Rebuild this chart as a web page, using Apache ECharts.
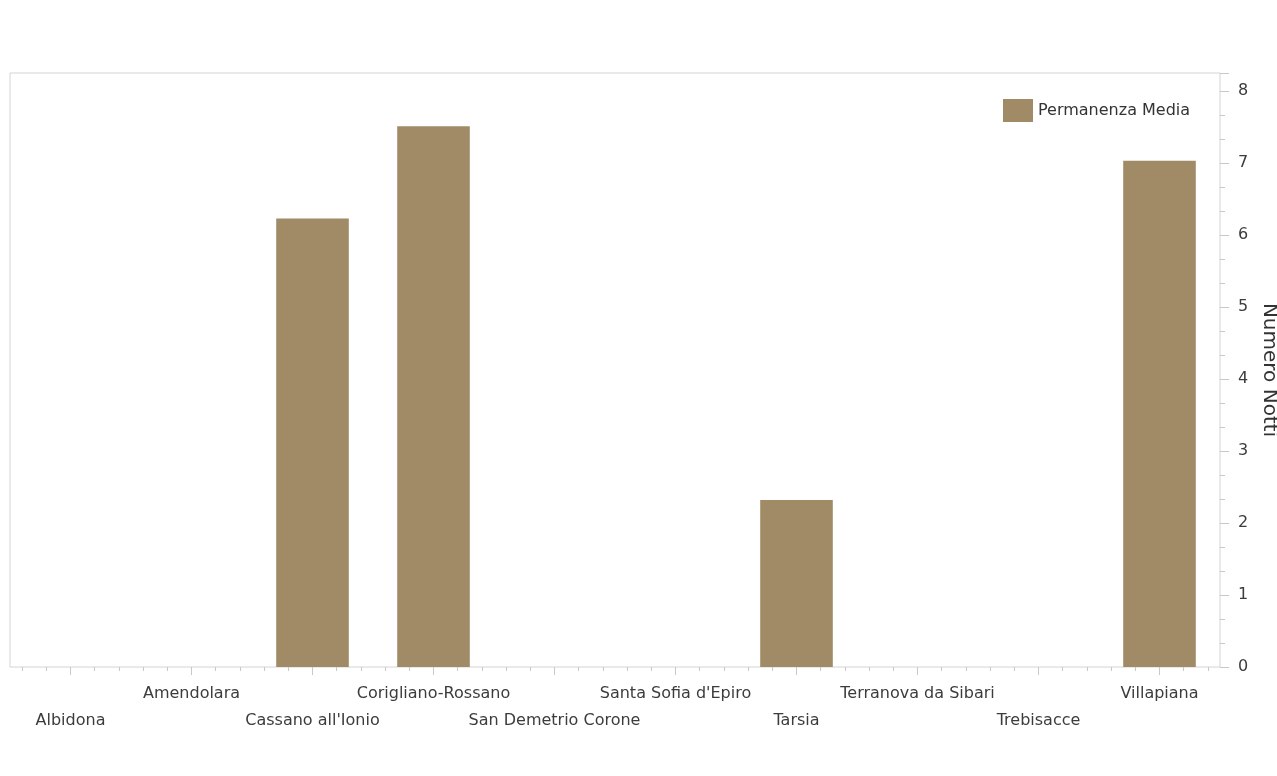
<!DOCTYPE html>
<html>
<head>
<meta charset="utf-8">
<script src="https://cdn.jsdelivr.net/npm/echarts@6/dist/echarts.min.js"></script>
<style>
html,body{margin:0;padding:0;background:#fff;}
#chart{width:1277px;height:776px;}
</style>
</head>
<body>
<div id="chart"></div>
<script>
const categories = ['Albidona','Amendolara',"Cassano all'Ionio",'Corigliano-Rossano','San Demetrio Corone',"Santa Sofia d'Epiro",'Tarsia','Terranova da Sibari','Trebisacce','Villapiana'];
const permanenzaMedia = [null, null, 6.23, 7.51, null, null, 2.32, null, null, 7.03];
const seriesName = 'Permanenza Media';
const yAxisName = 'Numero Notti';

const subTicks = [];
categories.forEach(() => { for (let i = 0; i < 5; i++) subTicks.push(''); });

const FONT = 'DejaVu Sans';
const chart = echarts.init(document.getElementById('chart'), null, {renderer: 'canvas'});
chart.setOption({
  animation: false,
  backgroundColor: '#ffffff',
  textStyle: {fontFamily: FONT},
  grid: {left: 10, right: 57, top: 73, bottom: 109, show: true, borderColor: '#d4d4d4', borderWidth: 1, containLabel: false, outerBoundsMode: 'none'},
  legend: {
    data: [seriesName], left: 998, top: 94, icon: 'rect', itemWidth: 30, itemHeight: 23, itemGap: 9,
    textStyle: {fontFamily: FONT, fontSize: 16, color: '#333'}
  },
  xAxis: [{
    type: 'category', data: categories, position: 'bottom',
    axisLine: {show: false},
    axisTick: {show: true, alignWithLabel: true, length: 8, lineStyle: {color: '#c8c8c8'}},
    axisLabel: {
      interval: 0, margin: 13, fontSize: 16, color: '#3c3c3c', lineHeight: 27, fontFamily: FONT,
      formatter: (v, i) => (i % 2 === 0 ? '\n' + v : v)
    },
    splitLine: {show: false}
  }, {
    type: 'category', data: subTicks, position: 'bottom', gridIndex: 0,
    axisLine: {show: false},
    axisTick: {show: true, alignWithLabel: true, interval: 0, length: 4, lineStyle: {color: '#c8c8c8'}},
    axisLabel: {show: false}, splitLine: {show: false}
  }],
  yAxis: {
    type: 'value', position: 'right', min: 0, max: 8.25, interval: 1,
    name: yAxisName, nameLocation: 'middle', nameRotate: -90, nameGap: 36,
    nameTextStyle: {fontFamily: FONT, fontSize: 20, color: '#333'},
    axisLine: {show: false},
    axisTick: {show: true, length: 9, lineStyle: {color: '#c8c8c8'}},
    minorTick: {show: true, splitNumber: 3, length: 5, lineStyle: {color: '#c8c8c8'}},
    axisLabel: {showMaxLabel: false, margin: 18, fontSize: 16, color: '#3c3c3c', fontFamily: FONT},
    splitLine: {show: false}
  },
  series: [{
    name: seriesName, type: 'bar', xAxisIndex: 0, data: permanenzaMedia,
    barWidth: '60%', itemStyle: {color: '#a08b66'}
  }]
});
</script>
</body>
</html>
